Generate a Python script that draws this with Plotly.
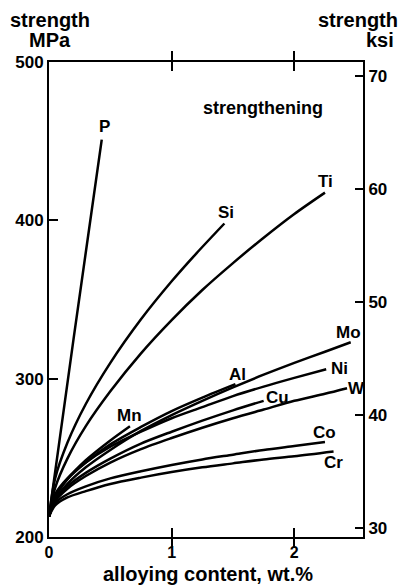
import plotly.graph_objects as go

# ---------------- data ----------------
P_x = [0, 0.2, 0.43]
P_y = [213, 325, 451]

Si_x = [0, 0.05, 0.15, 0.3, 0.5, 0.75, 1.0, 1.2, 1.43]
Si_y = [213, 237, 259.5, 284, 310, 337.5, 361.5, 379, 398]

Ti_x = [0, 0.05, 0.15, 0.3, 0.5, 0.75, 1.0, 1.25, 1.5, 1.75, 2.0, 2.25]
Ti_y = [213, 231, 249.5, 270, 292, 316, 337, 356, 373, 389, 404, 417.5]

Mo_x = [0, 0.05, 0.15, 0.3, 0.5, 0.75, 1.0, 1.25, 1.5, 1.75, 2.0, 2.25, 2.46]
Mo_y = [213, 223.5, 233.5, 244, 255, 267, 277, 286, 294.5, 302.5, 310, 317, 323]

Ni_x = [0, 0.05, 0.15, 0.3, 0.5, 0.75, 1.0, 1.25, 1.5, 1.75, 2.0, 2.26]
Ni_y = [213, 227, 237, 247, 257, 266.5, 275, 282, 289, 295, 300.5, 306]

W_x = [0, 0.05, 0.15, 0.3, 0.5, 0.75, 1.0, 1.25, 1.5, 1.75, 2.0, 2.25, 2.43]
W_y = [213, 222.5, 230.5, 238.5, 247, 255.5, 262.5, 269, 275, 280.5, 286, 290.5, 294]

Cu_x = [0, 0.05, 0.15, 0.3, 0.5, 0.75, 1.0, 1.25, 1.5, 1.75]
Cu_y = [213, 223.5, 232, 240.5, 249.5, 259, 266.5, 273.5, 280, 286]

Al_x = [0, 0.05, 0.15, 0.3, 0.5, 0.75, 1.0, 1.25, 1.52]
Al_y = [213, 225.5, 236.5, 247, 258.5, 269.5, 279.5, 288, 296.5]

Mn_x = [0, 0.05, 0.15, 0.3, 0.5, 0.66]
Mn_y = [213, 225, 236.5, 248.5, 261, 270]

Co_x = [0, 0.05, 0.15, 0.3, 0.5, 0.75, 1.0, 1.25, 1.5, 1.75, 2.0, 2.25]
Co_y = [213, 221.5, 227, 232, 237, 241.5, 245.5, 249, 252, 255, 257.5, 260]

Cr_x = [0, 0.05, 0.15, 0.3, 0.5, 0.75, 1.0, 1.25, 1.5, 1.75, 2.0, 2.32]
Cr_y = [213, 220, 225, 229, 233.5, 237.5, 241, 244, 246.5, 249, 251, 254]

x_ticks = [0, 1, 2]
mpa_ticks = [200, 300, 400, 500]
ksi_ticks = [30, 40, 50, 60, 70]

series = [
    ("P", P_x, P_y), ("Si", Si_x, Si_y), ("Ti", Ti_x, Ti_y),
    ("Mo", Mo_x, Mo_y), ("Ni", Ni_x, Ni_y), ("W", W_x, W_y),
    ("Cu", Cu_x, Cu_y), ("Al", Al_x, Al_y), ("Mn", Mn_x, Mn_y),
    ("Co", Co_x, Co_y), ("Cr", Cr_x, Cr_y),
]

# label offsets (pixels) relative to curve end
label_shift = {
    "P": (3, 13), "Si": (2, 11), "Ti": (1, 11), "Mo": (-2, 10),
    "Ni": (13, 1), "W": (9, 0), "Cu": (14, 3), "Al": (2, 10),
    "Mn": (0, 11), "Co": (0, 10), "Cr": (0, -11),
}

FONT = "Liberation Sans, Arial, Helvetica, sans-serif"

fig = go.Figure()
for name, xs, ys in series:
    fig.add_trace(go.Scatter(
        x=xs, y=ys, mode="lines", name=name, showlegend=False,
        line=dict(color="black", width=2.5, shape="spline", smoothing=0.8),
        hoverinfo="skip",
    ))

# invisible trace for the right axis
fig.add_trace(go.Scatter(x=[0], y=[50], yaxis="y2", mode="markers",
                         marker=dict(opacity=0), showlegend=False, hoverinfo="skip"))

annotations = []
for name, xs, ys in series:
    dx, dy = label_shift[name]
    annotations.append(dict(
        x=xs[-1], y=ys[-1], xref="x", yref="y", text=name, showarrow=False,
        xshift=dx, yshift=dy, xanchor="center", yanchor="middle",
        font=dict(family=FONT, size=17, color="black", weight="bold"),
    ))

annotations += [
    dict(x=0.682, y=0.903, xref="paper", yref="paper", text="strengthening",
         showarrow=False, xanchor="center", yanchor="middle",
         font=dict(family=FONT, size=18, color="black", weight="bold")),
    dict(x=0.003, y=1.088, xref="paper", yref="paper", text="strength",
         showarrow=False, xanchor="center", yanchor="middle",
         font=dict(family=FONT, size=20, color="black", weight="bold")),
    dict(x=0.003, y=1.047, xref="paper", yref="paper", text="MPa",
         showarrow=False, xanchor="center", yanchor="middle",
         font=dict(family=FONT, size=20, color="black", weight="bold")),
    dict(x=0.984, y=1.088, xref="paper", yref="paper", text="strength",
         showarrow=False, xanchor="center", yanchor="middle",
         font=dict(family=FONT, size=20, color="black", weight="bold")),
    dict(x=1.054, y=1.047, xref="paper", yref="paper", text="ksi",
         showarrow=False, xanchor="center", yanchor="middle",
         font=dict(family=FONT, size=20, color="black", weight="bold")),
    dict(x=0.506, y=-0.077, xref="paper", yref="paper", text="alloying content, wt.%",
         showarrow=False, xanchor="center", yanchor="middle",
         font=dict(family=FONT, size=20, color="black", weight="bold")),
]

tickfont = dict(family=FONT, size=17, color="black", weight="bold")
xtickfont = dict(family=FONT, size=16, color="black", weight="bold")

fig.update_layout(
    width=401, height=587,
    margin=dict(l=49, r=38, t=62, b=50),
    paper_bgcolor="white", plot_bgcolor="white",
    annotations=annotations,
    xaxis=dict(range=[0, 2.56], tickvals=x_ticks, ticktext=[str(v) for v in x_ticks],
               ticks="inside", ticklen=9, tickwidth=2, tickcolor="black",
               showline=True, linecolor="black", linewidth=2, mirror="allticks",
               showgrid=False, zeroline=False, tickfont=xtickfont, fixedrange=True),
    yaxis=dict(range=[200, 500], tickvals=mpa_ticks, ticktext=[str(v) for v in mpa_ticks],
               ticks="inside", ticklen=9, tickwidth=2, tickcolor="black",
               showline=True, linecolor="black", linewidth=2, mirror=True,
               showgrid=False, zeroline=False, tickfont=tickfont, fixedrange=True),
    yaxis2=dict(range=[29.2, 71.24], tickvals=ksi_ticks, ticktext=[str(v) for v in ksi_ticks],
                overlaying="y", side="right", anchor="x",
                ticks="inside", ticklen=8, tickwidth=2, tickcolor="black",
                showline=True, linecolor="black", linewidth=2,
                showgrid=False, zeroline=False, tickfont=tickfont, fixedrange=True),
)

fig.write_html("out.html")
